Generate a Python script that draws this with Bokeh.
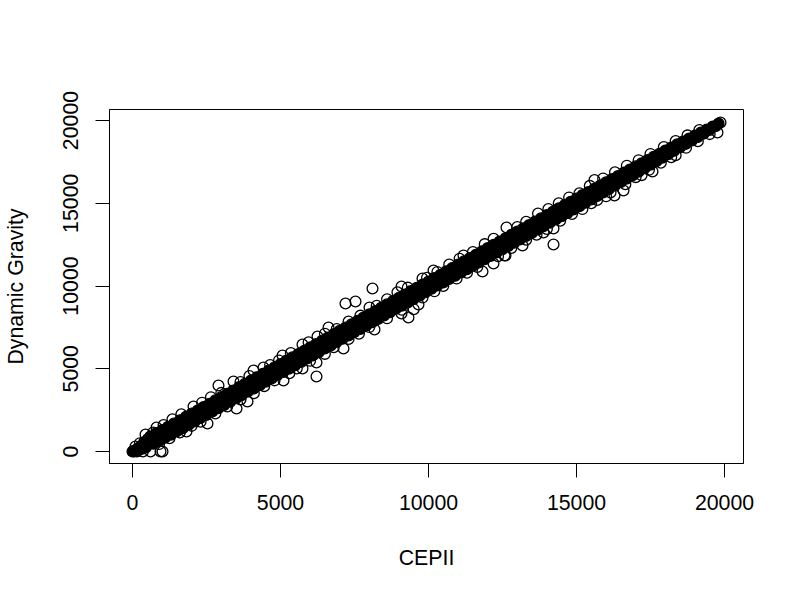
from bokeh.plotting import figure
from bokeh.models import Range1d, FixedTicker, ColumnDataSource
from bokeh.embed import file_html
from bokeh.resources import INLINE

x_label = "CEPII"
y_label = "Dynamic Gravity"
tick_values = [0, 5000, 10000, 15000, 20000]

# Overplotted mass of the diagonal, where single circles cannot be told apart (estimated outline)
core_points = [
    (0,0),(30,20),(60,10),(90,70),(130,40),(170,160),(220,100),(270,300),(330,170),(390,560),(450,240),(520,760),
    (600,900),(700,470),(800,1110),(900,640),(1000,1290),(1100,830),(1200,1500),(1300,1020),(1400,1690),(1500,1220),
    (1600,1890),(1700,1410),(1800,2090),(1900,1620),(2000,2290),(2100,1810),(2200,2480),(2300,2020),(2400,2690),(2500,2210),
    (2600,2890),(2700,2420),(2800,3090),(2900,2610),(3000,3290),(3100,2810),(3200,3490),(3300,3010),(3400,3690),(3500,3220),
    (3600,3890),(3700,3410),(3800,4090),(3900,3620),(4000,4290),(4100,3810),(4200,4490),(4300,4010),(4400,4690),(4500,4220),
    (4600,4890),(4700,4410),(4800,5090),(4900,4620),(5000,5290),(5100,4810),(5200,5490),(5300,5010),(5400,5690),(5500,5220),
    (5600,5890),(5700,5410),(5800,6090),(5900,5620),(6000,6290),(6100,5810),(6200,6490),(6300,6010),(6400,6690),(6500,6220),
    (6600,6890),(6700,6410),(6800,7090),(6900,6620),(7000,7290),(7100,6810),(7200,7490),(7300,7010),(7400,7690),(7500,7220),
    (7600,7890),(7700,7410),(7800,8090),(7900,7620),(8000,8290),(8100,7810),(8200,8490),(8300,8010),(8400,8690),(8500,8220),
    (8600,8890),(8700,8410),(8800,9090),(8900,8620),(9000,9290),(9100,8810),(9200,9490),(9300,9010),(9400,9690),(9500,9220),
    (9600,9890),(9700,9410),(9800,10090),(9900,9620),(10000,10270),(10100,9830),(10200,10480),(10300,10030),(10400,10680),(10500,10220),
    (10600,10890),(10700,10420),(10800,11090),(10900,10620),(11000,11290),(11100,10820),(11200,11490),(11300,11020),(11400,11690),(11500,11220),
    (11600,11890),(11700,11420),(11800,12090),(11900,11620),(12000,12290),(12100,11820),(12200,12490),(12300,12020),(12400,12690),(12500,12220),
    (12600,12890),(12700,12420),(12800,13090),(12900,12620),(13000,13290),(13100,12820),(13200,13490),(13300,13020),(13400,13690),(13500,13220),
    (13600,13890),(13700,13420),(13800,14090),(13900,13620),(14000,14290),(14100,13820),(14200,14490),(14300,14020),(14400,14690),(14500,14220),
    (14600,14890),(14700,14420),(14800,15090),(14900,14620),(15000,15290),(15100,14820),(15200,15490),(15300,15030),(15400,15680),(15500,15230),
    (15600,15880),(15700,15440),(15800,16070),(15900,15650),(16000,16270),(16100,15860),(16200,16460),(16300,16070),(16400,16650),(16500,16280),
    (16600,16850),(16700,16490),(16800,17040),(16900,16700),(17000,17230),(17100,16910),(17200,17420),(17300,17120),(17400,17610),(17500,17330),
    (17600,17800),(17700,17540),(17800,17990),(17900,17750),(18000,18180),(18100,17960),(18200,18370),(18300,18170),(18400,18560),(18500,18380),
    (18600,18730),(18700,18590),(18800,18910),(18900,18790),(19000,19090),(19100,19000),(19200,19270),(19300,19210),(19400,19450),(19500,19430),
    (19600,19640),(19700,19650),(19800,19820),
]

# Single circles readable at the edge of the band and away from it
ring_points = [
    (2905,3988),(7196,8943),(7534,9063),(8108,9849),(6216,4532),(14223,12508),(9324,8097),(946,0),(19865,19879),
    (15608,16400),(16284,15468),(16588,15770),(17568,16918),(19763,19275),(12635,13535),(12601,11843),(13176,12447),
    (13885,13233),(14223,13474),(3412,4230),(3885,3021),(3514,2598),(2534,1692),(1824,1208),(2061,2719),(439,1027),
    (811,1450),(1014,0),(608,0),(5101,4290),(5743,5015),(6216,5378),(7128,6224),(4088,4894),(4426,5076),(5068,5800),
    (5743,6465),(6250,6949),(12196,11360),(11824,10876),(12568,11843),(9662,8882),(9088,8338),(9088,9970),(8176,7372),
    (10169,10937),(9797,10453),(11182,11843),(8007,8701),(6622,7492),(350,0),(150,0),(250,500),(100,300),(16000,15420),
    (15500,15000),(18200,17780),(17200,16700),(9300,9900),(9500,8600),
]

# Circles that roughen both edges of the band (estimated)
edge_points = [
    (700,1150),(1050,1600),(1350,1950),(1650,2250),(2350,2950),(2650,3280),(3000,3540),(3650,4200),(3950,4560),(4650,5220),
    (4950,5500),(5350,5950),(5950,6600),(6500,7120),(6900,7400),(7300,7850),(7700,8210),(8250,8800),(8600,9200),(8950,9620),
    (9950,10500),(10300,10850),(10700,11300),(11050,11650),(11500,12050),(11900,12530),(12200,12850),(13000,13560),(13300,13880),(13700,14380),
    (14050,14650),(14400,15000),(14750,15350),(15100,15600),(15450,16050),(15900,16500),(16300,16870),(16700,17270),(17100,17600),(17500,17980),
    (17950,18400),(18350,18760),(18750,19100),(19150,19420),
    (900,450),(1250,800),(1600,1150),(2000,1550),(2300,1800),(2800,2300),(3200,2720),(3650,3150),(4100,3520),(4450,3950),
    (4800,4300),(5300,4730),(5550,5020),(6000,5480),(6500,5900),(6800,6300),(7300,6800),(7650,7120),(8000,7520),(8600,8050),
    (9100,8560),(9800,9300),(10200,9680),(10500,10000),(10950,10450),(11300,10800),(11650,11150),(12350,11800),(12800,12300),(13300,12800),
    (13650,13100),(14000,13450),(14450,13950),(14850,14350),(15200,14650),(15700,15200),(16150,15650),(16650,16150),(17000,16580),(17450,17020),
    (17850,17450),(18350,17900),(18700,18350),(19100,18750),(19500,19180),
]

core_x = [a for a, b in core_points]
core_y = [b for a, b in core_points]
ring_x = [a for a, b in ring_points + edge_points]
ring_y = [b for a, b in ring_points + edge_points]

p = figure(width=792, height=592, output_backend="svg", toolbar_location=None,
           x_range=Range1d(-777, 20642), y_range=Range1d(-725, 20665),
           min_border_left=109, min_border_right=49, min_border_top=109, min_border_bottom=129,
           background_fill_color="white", border_fill_color="white",
           x_axis_label=x_label, y_axis_label=y_label)

p.grid.visible = False
p.outline_line_color = "#000000"
p.outline_line_width = 1

for ax in (p.xaxis[0], p.yaxis[0]):
    ax.ticker = FixedTicker(ticks=tick_values)
    ax.minor_tick_line_color = None
    ax.major_tick_in = 0
    ax.major_tick_out = 14
    ax.major_tick_line_color = "#000000"
    ax.axis_line_color = "#000000"
    ax.major_label_text_font = "Liberation Sans"
    ax.major_label_text_font_size = "21.3px"
    ax.major_label_text_color = "#000000"
    ax.axis_label_text_font = "Liberation Sans"
    ax.axis_label_text_font_size = "21.3px"
    ax.axis_label_text_font_style = "normal"
    ax.axis_label_text_color = "#000000"

p.xaxis[0].major_label_standoff = 17
p.xaxis[0].axis_label_standoff = 33
p.yaxis[0].major_label_orientation = "vertical"
p.yaxis[0].major_label_standoff = 17
p.yaxis[0].axis_label_standoff = 33

core = ColumnDataSource(dict(x=core_x, y=core_y))
rings = ColumnDataSource(dict(x=ring_x, y=ring_y))
p.scatter("x", "y", source=rings, marker="circle", size=10.8, fill_color=None,
          line_color="#000000", line_width=1.3)
p.scatter("x", "y", source=core, marker="circle", size=10.8, fill_color="#000000",
          line_color="#000000", line_width=1.3)

open("out.html", "w").write(file_html(p, INLINE))
